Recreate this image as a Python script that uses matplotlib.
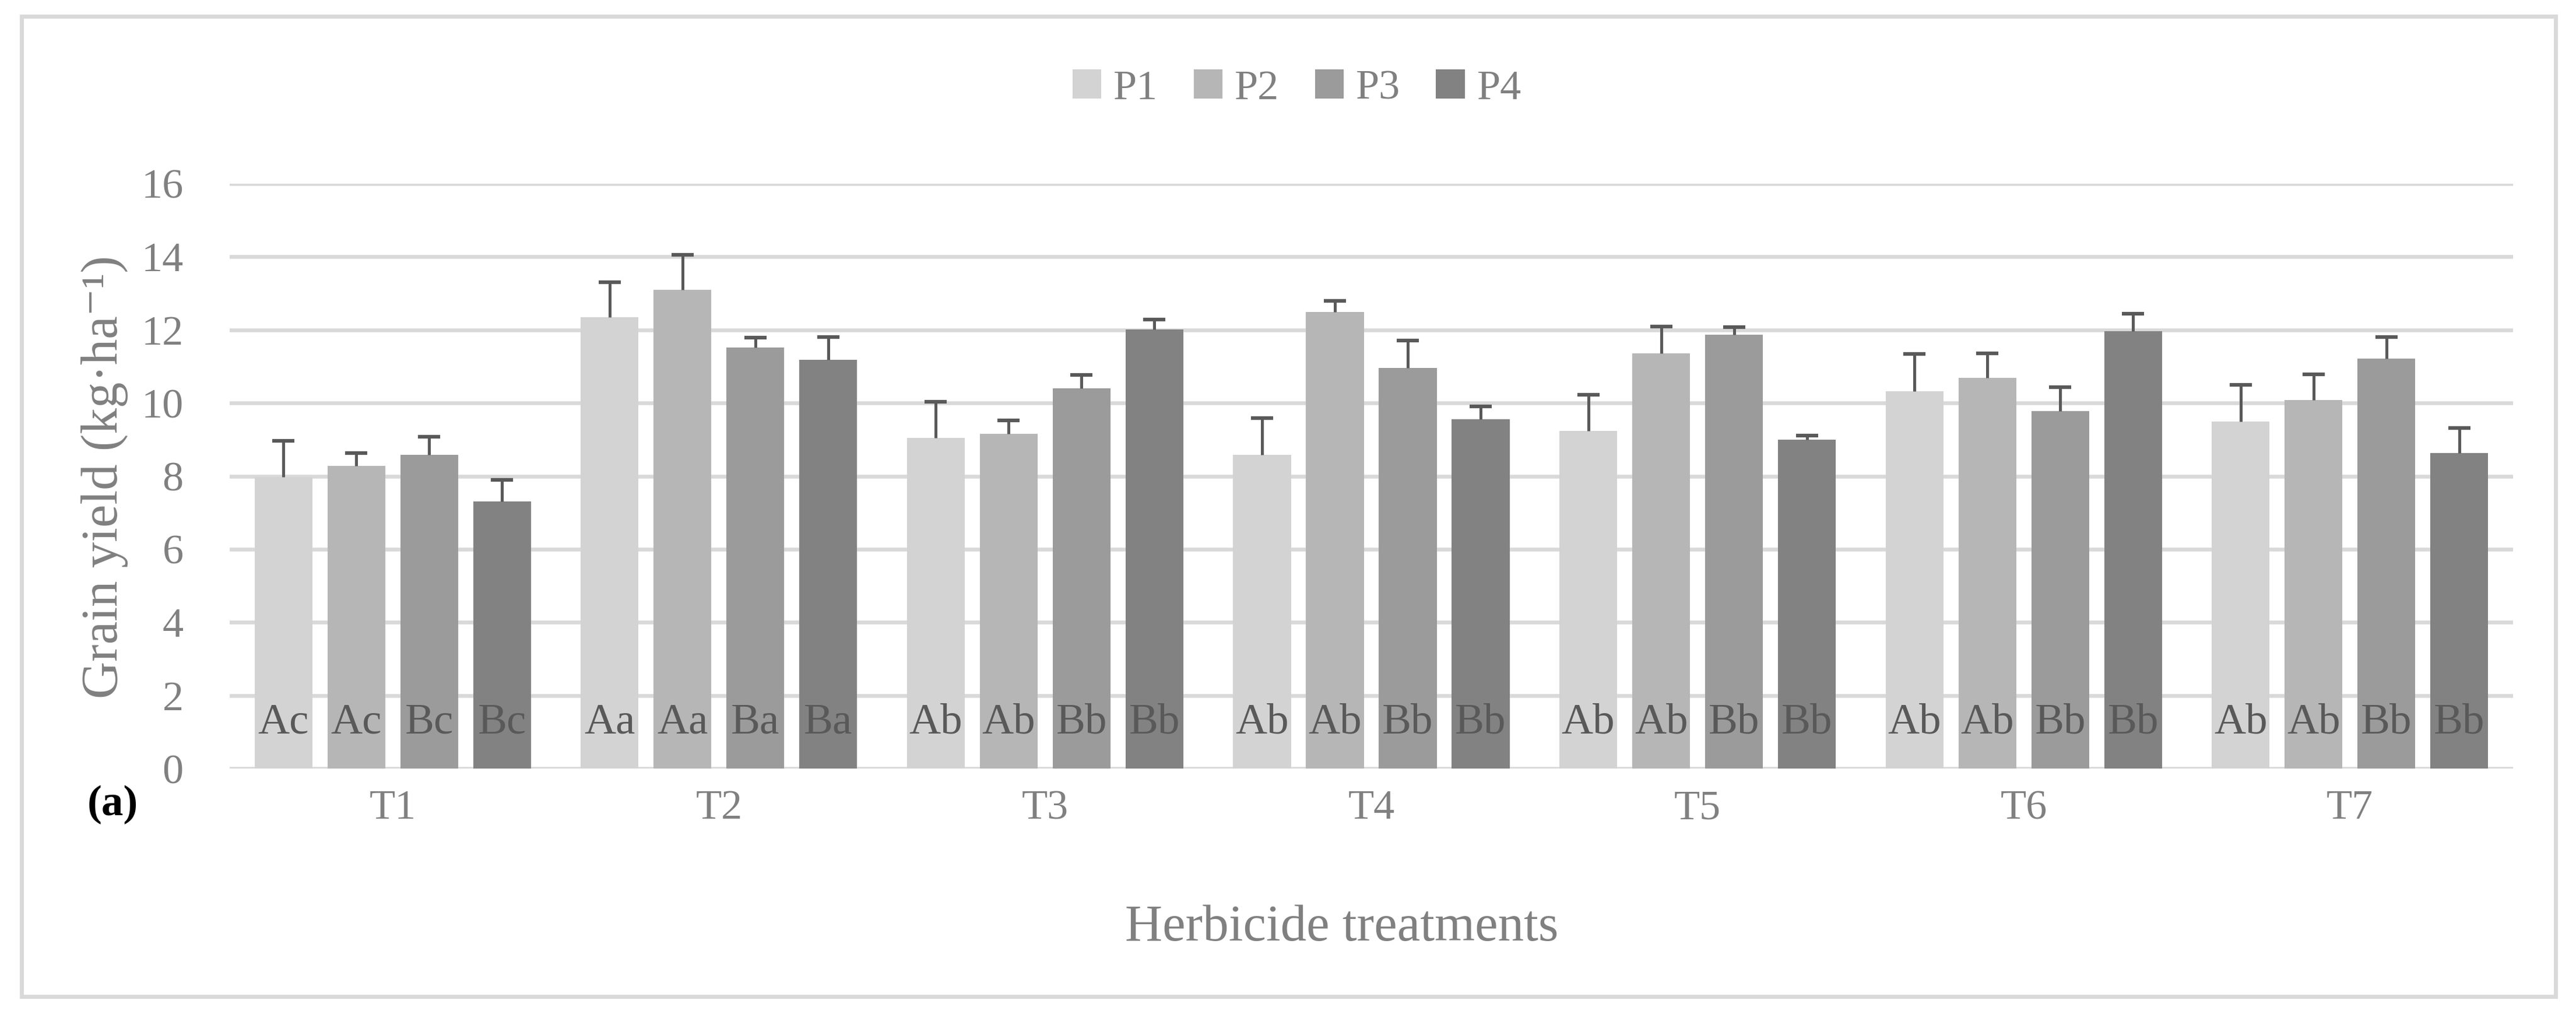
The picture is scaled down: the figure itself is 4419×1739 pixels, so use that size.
import matplotlib
matplotlib.use("Agg")
import matplotlib.pyplot as plt
import numpy as np
from matplotlib.patches import Rectangle

categories = ["T1", "T2", "T3", "T4", "T5", "T6", "T7"]
series = ["P1", "P2", "P3", "P4"]
P1 = [7.98, 12.34, 9.04, 8.59, 9.23, 10.32, 9.49]
P2 = [8.28, 13.10, 9.15, 12.49, 11.36, 10.68, 10.08]
P3 = [8.59, 11.52, 10.40, 10.96, 11.87, 9.78, 11.22]
P4 = [7.31, 11.19, 12.01, 9.56, 9.00, 11.97, 8.63]
P1_err = [0.98, 0.97, 1.00, 1.00, 1.00, 1.02, 1.00]
P2_err = [0.35, 0.95, 0.37, 0.30, 0.73, 0.68, 0.71]
P3_err = [0.48, 0.27, 0.36, 0.75, 0.21, 0.65, 0.59]
P4_err = [0.59, 0.62, 0.28, 0.34, 0.11, 0.47, 0.68]
letters_P1 = ["Ac", "Aa", "Ab", "Ab", "Ab", "Ab", "Ab"]
letters_P2 = ["Ac", "Aa", "Ab", "Ab", "Ab", "Ab", "Ab"]
letters_P3 = ["Bc", "Ba", "Bb", "Bb", "Bb", "Bb", "Bb"]
letters_P4 = ["Bc", "Ba", "Bb", "Bb", "Bb", "Bb", "Bb"]
yticks = [0, 2, 4, 6, 8, 10, 12, 14, 16]

values = [P1, P2, P3, P4]
errors = [P1_err, P2_err, P3_err, P4_err]
letters = [letters_P1, letters_P2, letters_P3, letters_P4]
colors = ["#D3D3D3", "#B6B6B6", "#9B9B9B", "#828282"]

FONT = ["Liberation Serif", "DejaVu Serif"]
plt.rcParams["font.family"] = FONT

W, H = 4419, 1739
fig = plt.figure(figsize=(W / 100, H / 100), dpi=100)
ax = fig.add_axes([394 / W, 1 - 1318 / H, (4311 - 394) / W, (1318 - 315) / H])

x = np.arange(len(categories)) + 0.5
step = 0.2234
bw = 0.177
handles = []
for j, (vals, errs, labs, col) in enumerate(zip(values, errors, letters, colors)):
    xs = x + (j - 1.5) * step
    b = ax.bar(xs, vals, width=bw, color=col, zorder=2, label=series[j])
    handles.append(b)
    eb = ax.errorbar(xs, vals, yerr=[np.zeros(len(vals)), errs], fmt="none",
                     ecolor="#595959", elinewidth=3.6, capsize=13.7, capthick=4.5, zorder=3)
    caps = eb[1]
    if len(caps) > 0:
        caps[0].set_visible(False)
    for xi, lab in zip(xs, labs):
        ax.text(xi, 0.96, lab, ha="center", va="baseline", fontsize=54,
                color="#595959", zorder=4)

ax.set_xlim(0, 7)
ax.set_ylim(0, 16)
ax.set_yticks(yticks)
ax.set_yticklabels([str(t) for t in yticks])
ax.set_xticks(x)
ax.set_xticklabels(categories)
ax.tick_params(axis="both", length=0, labelsize=52, labelcolor="#808080")
ax.tick_params(axis="y", pad=57)
ax.tick_params(axis="x", pad=26)
for s in ax.spines.values():
    s.set_visible(False)
ax.yaxis.grid(True, color="#D9D9D9", linewidth=4.7, zorder=0)
ax.set_axisbelow(True)

fig.text(2302 / W, 1 - 1592 / H, "Herbicide treatments", ha="center", va="center",
         fontsize=64, color="#808080")
fig.text(180 / W, 1 - 818 / H, "Grain yield (kg·ha⁻¹)", ha="center", va="center",
         rotation=90, fontsize=64, color="#808080")
fig.text(193 / W, 1 - 1380 / H, "(a)", ha="center", va="center", fontsize=54,
         fontweight="bold", color="black")

fig.legend(handles=handles, labels=series, loc="center",
           bbox_to_anchor=(2225 / W, 1 - 152 / H), ncol=4, frameon=False,
           fontsize=52, labelcolor="#808080", handlelength=0.68, handleheight=0.68,
           handletextpad=0.29, columnspacing=0.85)

fig.patches.append(Rectangle((36.5 / W, 1 - 1709 / H), (4384 - 36.5) / W, (1709 - 27.5) / H,
                             transform=fig.transFigure, fill=False, edgecolor="#D9D9D9",
                             linewidth=5, zorder=0))

fig.savefig("out.png", dpi=100)
